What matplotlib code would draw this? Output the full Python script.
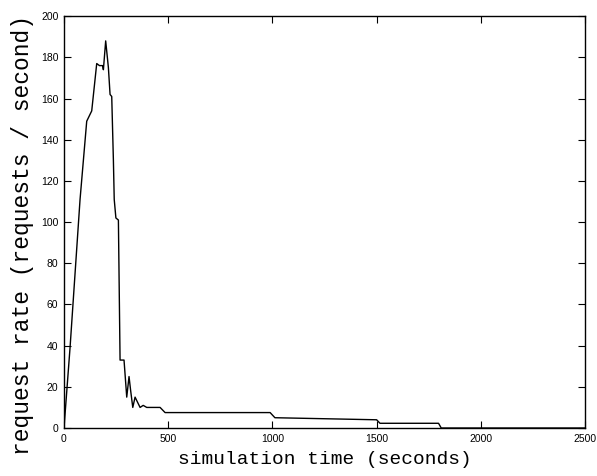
import matplotlib
matplotlib.use("Agg")
from matplotlib import pyplot as plt

# data
t = [0, 29, 77, 109, 133, 157, 170, 185, 189, 200, 213, 221, 229, 237, 241, 249,
     261, 269, 288, 301, 312, 320, 330, 341, 365, 380, 397, 461, 485, 989, 1012,
     1500, 1516, 1797, 1810, 2500]
rate = [0, 39, 111, 149, 154, 177, 176, 176, 174, 188, 175, 162, 161, 130, 111, 102,
        101, 33, 33, 15, 25, 18, 10, 15, 10, 11, 10, 10, 7.5, 7.5, 5,
        4, 2.3, 2.3, 0, 0]

xticks = [0, 500, 1000, 1500, 2000, 2500]
yticks = [0, 20, 40, 60, 80, 100, 120, 140, 160, 180, 200]

fig = plt.figure(figsize=(5.97, 4.76), dpi=100)
ax = fig.add_axes([0.1072, 0.1008, 0.8728, 0.8652])
ax.plot(t, rate, color="black", linewidth=1.0)

ax.set_xlim(0, 2500)
ax.set_ylim(0, 200)
ax.set_xticks(xticks)
ax.set_yticks(yticks)
ax.tick_params(direction="in", top=True, right=True, length=5, width=0.8,
               labelsize=7.5, pad=4)
for lab in ax.get_xticklabels() + ax.get_yticklabels():
    lab.set_family("Liberation Sans")
for s in ax.spines.values():
    s.set_linewidth(1.0)

ax.set_xlabel("simulation time (seconds)", family="Liberation Mono", fontsize=14, labelpad=5)
ax.set_ylabel("request rate (requests / second)", family="Liberation Mono", fontsize=16.5)
ax.yaxis.set_label_coords(-0.058, 0.468)

fig.savefig("out.png", dpi=100)
